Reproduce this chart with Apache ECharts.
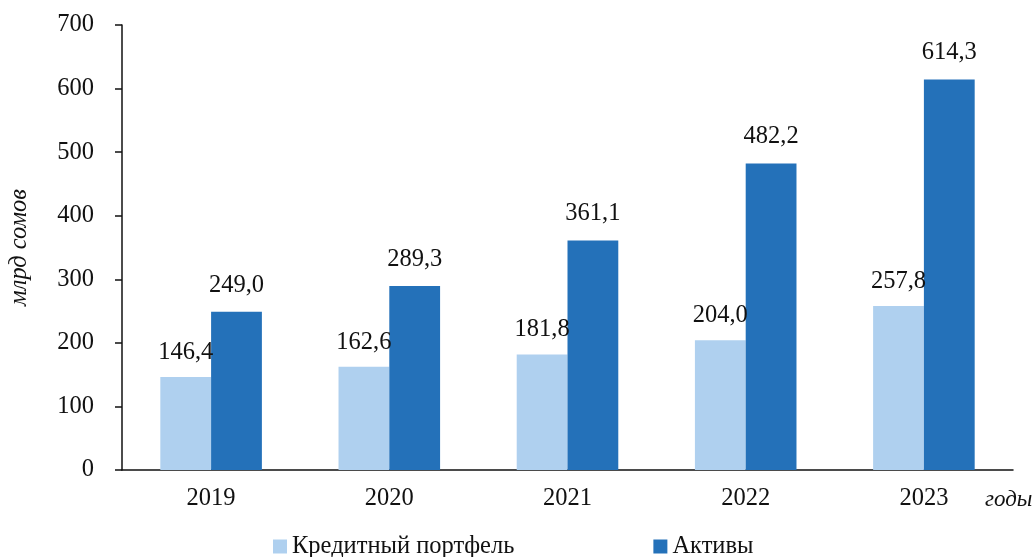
<!DOCTYPE html>
<html>
<head>
<meta charset="utf-8">
<script src="https://cdn.jsdelivr.net/npm/echarts@6/dist/echarts.min.js"></script>
<style>html,body{margin:0;padding:0;background:#fff}#main{width:1034px;height:557px}</style>
</head>
<body>
<div id="main"></div>
<script>
var years = ['2019', '2020', '2021', '2022', '2023'];
var loans = [146.4, 162.6, 181.8, 204.0, 257.8];
var assets = [249.0, 289.3, 361.1, 482.2, 614.3];

var myChart = echarts.init(document.getElementById('main'));
var font = '"Liberation Serif", "Times New Roman", serif';
var fs = 24.5;
function fmt(p) { return p.value.toFixed(1).replace('.', ','); }

var option = {
    textStyle: { fontFamily: font },
    animation: false,
    grid: { left: 122, right: 21, top: 25, bottom: 87, outerBoundsMode: 'none' },
    legend: {
        bottom: -7,
        left: 268,
        itemGap: 139,
        itemWidth: 14,
        itemHeight: 14,
        icon: 'rect',
        textStyle: { fontFamily: font, fontSize: fs, color: '#111' },
        data: ['Кредитный портфель', 'Активы']
    },
    xAxis: {
        type: 'category',
        data: years,
        name: 'годы',
        nameLocation: 'end',
        nameGap: -28,
        nameTextStyle: { fontFamily: font, fontSize: 23, fontStyle: 'italic', color: '#111', align: 'left', verticalAlign: 'top', padding: [18, 0, 0, 0] },
        axisLine: { lineStyle: { color: '#111', width: 1.5 } },
        axisTick: { length: 7, lineStyle: { color: '#111', width: 1.5 } },
        axisLabel: { fontFamily: font, fontSize: fs, color: '#111', margin: 16 }
    },
    yAxis: {
        type: 'value',
        min: 0, max: 700, interval: 100,
        name: 'млрд сомов',
        nameLocation: 'middle',
        nameGap: 90,
        nameTextStyle: { fontFamily: font, fontSize: fs, fontStyle: 'italic', color: '#111' },
        axisLine: { show: true, lineStyle: { color: '#111', width: 1.5 } },
        axisTick: { show: true, length: 7, lineStyle: { color: '#111', width: 1.5 } },
        axisLabel: { fontFamily: font, fontSize: fs, color: '#111', margin: 28 },
        splitLine: { show: false }
    },
    series: [
        {
            name: 'Кредитный портфель',
            type: 'bar',
            data: loans,
            barGap: '0%',
            barCategoryGap: '43%',
            itemStyle: { color: '#AFD0EF' },
            label: { show: true, position: 'top', distance: 12, formatter: fmt, fontFamily: font, fontSize: fs, color: '#111' }
        },
        {
            name: 'Активы',
            type: 'bar',
            data: assets,
            itemStyle: { color: '#2471B9' },
            label: { show: true, position: 'top', distance: 14, formatter: fmt, fontFamily: font, fontSize: fs, color: '#111' }
        }
    ]
};
myChart.setOption(option);
</script>
</body>
</html>
